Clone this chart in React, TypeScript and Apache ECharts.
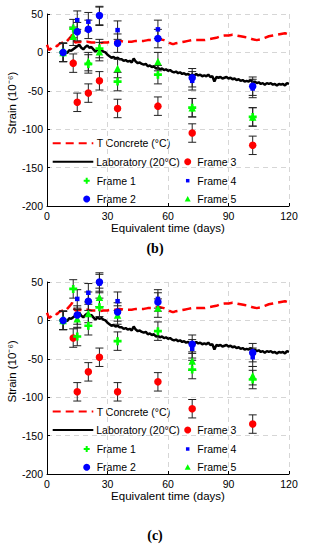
import React, { useEffect, useRef } from "react";
import * as echarts from "echarts";

type P = [number, number];

const xTicks = { min: 0, max: 120, interval: 30 };
const yTicks = { min: -200, max: 50, interval: 50 };
const ERR = 12;

const tConcrete: P[] = [
  [0, 10], [1, 3], [2, 5], [3, 8], [4, 9], [5, 8], [6, 11], [7, 12], [8, 13], [9, 12], [10, 15], [11, 18],
  [12, 21], [12.5, 23], [13, 17], [14, 13], [16, 14], [18, 13], [20, 14], [22, 13], [24, 13], [26, 12],
  [28, 13], [30, 13], [32, 14], [34, 14], [36, 15], [38, 14], [40, 14], [42, 14], [44, 15], [46, 15],
  [48, 15], [50, 16], [52, 16], [54, 17.5], [56, 17], [58, 16], [60, 14], [61, 12], [62, 11], [63, 11],
  [64, 12], [66, 13], [68, 14], [70, 15], [72, 16], [74, 16], [76, 16], [78, 16], [80, 17], [82, 18],
  [84, 19], [86, 21], [88, 22], [90, 22], [92, 23], [94, 22], [96, 21], [98, 20], [100, 19], [102, 17],
  [104, 16], [106, 17], [108, 19], [110, 21], [112, 22], [114, 23], [116, 24], [118, 25], [120, 23],
];

const laboratory: P[] = [
  [8, 0], [9, 1], [10, -1], [11, 3], [12, 2], [13, 4], [14, 6], [15, 8], [16, 10], [17, 6], [18, 4],
  [19, 7], [20, 9], [21, 6], [22, 7], [23, 4], [24, 1], [25, 4], [26, 2], [27, 3], [28, 1], [29, 0],
  [30, -3], [31, -5], [32, -7], [33, -6], [34, -8], [35, -7], [36, -9], [37, -9], [38, -11], [39, -10],
  [40, -12], [41, -11], [42, -13], [43, -8], [44, -12], [45, -14], [46, -13], [47, -15], [48, -16],
  [49, -15], [50, -18], [51, -17], [52, -19], [53, -18], [54, -21], [55, -20], [56, -22], [57, -21],
  [58, -23], [59, -22], [60, -24], [61, -23], [62, -25], [63, -26], [64, -25], [65, -27], [66, -26],
  [67, -28], [68, -27], [69, -29], [70, -28], [71, -30], [72, -29], [73, -30], [74, -28], [75, -30],
  [76, -29], [77, -31], [78, -30], [79, -31], [80, -29], [81, -32], [82, -31], [83, -38], [84, -32],
  [85, -33], [86, -32], [87, -34], [88, -33], [89, -32], [90, -34], [91, -33], [92, -35], [93, -34],
  [94, -36], [95, -35], [96, -37], [97, -36], [98, -38], [99, -37], [100, -38], [101, -36], [102, -39],
  [103, -38], [104, -40], [105, -39], [106, -41], [107, -40], [108, -42], [109, -40], [110, -41],
  [111, -40], [112, -42], [113, -41], [114, -43], [115, -41], [116, -42], [117, -41], [118, -43],
  [119, -40], [120, -41],
];

// Panel (b)
const frame1B: P[] = [[8, 0], [13, 31], [20.5, -15], [26, 5], [35, -38], [55, -29], [72, -72], [102, -84]];
const frame2B: P[] = [[8, 0], [15, 27], [20.5, 30], [26, 48], [35, 12], [55, 18], [72, -33], [102, -44]];
const frame3B: P[] = [[13, -14], [15, -65], [20.5, -53], [26, -37], [35, -73], [55, -70], [72, -105], [102, -121]];
const frame4B: P[] = [[8, 0], [15, 42], [20.5, 40], [26, 47], [35, 29], [55, 30], [72, -37], [102, -47]];
const frame5B: P[] = [[8, 0], [13, 21], [20.5, -12], [26, 1], [35, -21], [55, -12], [72, -72], [102, -84]];

// Panel (c)
const frame1C: P[] = [[8, 0], [13, 41], [15, -21], [20.5, -7], [26, 17], [35, -27], [55, -14], [72, -64], [102, -77]];
const frame2C: P[] = [[8, 0], [15, 7], [20.5, 25], [26, 50], [35, 11], [55, 24], [72, -31], [102, -42]];
const frame3C: P[] = [[13, -23], [15, -93], [20.5, -67], [26, -48], [35, -93], [55, -80], [72, -115], [102, -135]];
const frame4C: P[] = [[8, 0], [15, 28], [20.5, 36], [26, 48], [35, 25], [55, 28], [72, -37], [102, -48]];
const frame5C: P[] = [[8, 0], [15, 2], [20.5, 9], [26, 30], [35, 7], [55, 16], [72, -53], [102, -72]];

const F = "Liberation Sans, Arial, sans-serif";
const RED = "#ff0000";
const GREEN = "#00ff00";
const BLUE = "#0000ff";
const PLUS = "path://M2,0H4V2H6V4H4V6H2V4H0V2H2Z";

function axesFor(gi: number) {
  const x = {
    type: "value", gridIndex: gi, ...xTicks,
    axisLine: { show: true, onZero: false, lineStyle: { color: "#000", width: 1 } },
    axisTick: { show: true, inside: true, length: 3, lineStyle: { color: "#000" } },
    axisLabel: { color: "#000", fontSize: 10.5, fontFamily: F, margin: 4 },
    splitLine: { show: true, lineStyle: { color: "#d6d6d6", type: [5, 4], width: 1 } },
    name: "Equivalent time (days)", nameLocation: "middle", nameGap: 15,
    nameTextStyle: { color: "#000", fontSize: 11.5, fontFamily: F },
  };
  const y = {
    type: "value", gridIndex: gi, ...yTicks,
    axisLine: { show: true, onZero: false, lineStyle: { color: "#000", width: 1 } },
    axisTick: { show: true, inside: true, length: 3, lineStyle: { color: "#000" } },
    axisLabel: { color: "#000", fontSize: 10.5, fontFamily: F, margin: 4 },
    splitLine: { show: true, lineStyle: { color: "#d6d6d6", type: [5, 4], width: 1 } },
  };
  return { x, y };
}

function seriesFor(gi: number, frames: P[][]) {
  const base = { xAxisIndex: gi, yAxisIndex: gi };
  const all: number[][] = [];
  frames.forEach((f) => f.forEach(([x, y]) => all.push([x, y - ERR, y + ERR])));
  const styles = [
    { symbol: PLUS, symbolSize: 8, color: GREEN },
    { symbol: "circle", symbolSize: 7.5, color: BLUE },
    { symbol: "circle", symbolSize: 7.5, color: RED },
    { symbol: "rect", symbolSize: 4.5, color: BLUE },
    { symbol: "triangle", symbolSize: 7.5, color: GREEN },
  ];
  const order = [2, 4, 0, 1, 3];
  return [
    {
      ...base, type: "line", name: "T Concrete (°C)", data: tConcrete, showSymbol: false, z: 2,
      lineStyle: { color: RED, width: 2.5, type: [9, 5] },
    },
    {
      ...base, type: "line", name: "Laboratory (20°C)", data: laboratory, showSymbol: false, z: 2,
      lineStyle: { color: "#000", width: 2.5 },
    },
    {
      ...base, type: "custom", name: "err", data: all, z: 3, silent: true,
      encode: { x: 0, y: [1, 2] },
      renderItem: (_p: any, api: any) => {
        const x = api.value(0);
        const lo = api.coord([x, api.value(1)]);
        const hi = api.coord([x, api.value(2)]);
        const w = 4;
        const st = { stroke: "#222", lineWidth: 1 };
        return {
          type: "group",
          children: [
            { type: "line", shape: { x1: lo[0], y1: lo[1], x2: hi[0], y2: hi[1] }, style: st },
            { type: "line", shape: { x1: lo[0] - w, y1: lo[1], x2: lo[0] + w, y2: lo[1] }, style: st },
            { type: "line", shape: { x1: hi[0] - w, y1: hi[1], x2: hi[0] + w, y2: hi[1] }, style: st },
          ],
        };
      },
    },
    ...order.map((i) => ({
      ...base, type: "scatter", name: `Frame ${i + 1}`, data: frames[i], z: 4,
      symbol: styles[i].symbol, symbolSize: styles[i].symbolSize,
      itemStyle: { color: styles[i].color, opacity: 1 },
    })),
  ];
}

function legendGraphics(oy: number) {
  const ts = (text: string) => ({ text, fill: "#000", fontSize: 10.5, fontFamily: F, align: "left", verticalAlign: "middle" });
  const r1 = 143.3 + oy, r2 = 161.7 + oy, r3 = 180.7 + oy, r4 = 199 + oy;
  const c1 = 86.7, c2 = 187.7, t1 = 96.7, t2 = 197.3;
  return [
    { type: "line", shape: { x1: 52.7, y1: r1, x2: 93.3, y2: r1 }, style: { stroke: RED, lineWidth: 2, lineDash: [8, 5] } },
    { type: "text", x: t1, y: r1, style: ts("T Concrete (°C)") },
    { type: "line", shape: { x1: 52.7, y1: r2, x2: 93.3, y2: r2 }, style: { stroke: "#000", lineWidth: 2 } },
    { type: "text", x: t1 - 0.5, y: r2, style: ts("Laboratory (20°C)") },
    { type: "circle", shape: { cx: c2, cy: r2, r: 3.5 }, style: { fill: RED } },
    { type: "text", x: t2, y: r2, style: ts("Frame 3") },
    {
      type: "polygon",
      shape: { points: [[c1 - 1, r3 - 3], [c1 + 1, r3 - 3], [c1 + 1, r3 - 1], [c1 + 3, r3 - 1], [c1 + 3, r3 + 1], [c1 + 1, r3 + 1], [c1 + 1, r3 + 3], [c1 - 1, r3 + 3], [c1 - 1, r3 + 1], [c1 - 3, r3 + 1], [c1 - 3, r3 - 1], [c1 - 1, r3 - 1]] },
      style: { fill: GREEN },
    },
    { type: "text", x: t1, y: r3, style: ts("Frame 1") },
    { type: "rect", shape: { x: c2 - 1.75, y: r3 - 1.75, width: 3.5, height: 3.5 }, style: { fill: BLUE } },
    { type: "text", x: t2, y: r3, style: ts("Frame 4") },
    { type: "circle", shape: { cx: c1, cy: r4, r: 3.5 }, style: { fill: BLUE } },
    { type: "text", x: t1, y: r4, style: ts("Frame 2") },
    { type: "polygon", shape: { points: [[c2, r4 - 3], [c2 + 3, r4 + 2.5], [c2 - 3, r4 + 2.5]] }, style: { fill: GREEN } },
    { type: "text", x: t2, y: r4, style: ts("Frame 5") },
    {
      type: "text", x: 12, y: 103 + oy, rotation: Math.PI / 2,
      style: { text: "Strain (10⁻⁶)", fill: "#000", fontSize: 11.5, fontFamily: F, align: "center", verticalAlign: "middle" },
    },
  ];
}

export default function App() {
  const ref = useRef<HTMLDivElement>(null);
  useEffect(() => {
    document.body.style.margin = "0";
    const chart = echarts.init(ref.current!, null, { renderer: "svg" });
    const a0 = axesFor(0);
    const a1 = axesFor(1);
    const option: any = {
      animation: false,
      backgroundColor: "#fff",
      grid: [
        { left: 47, top: 14, width: 242, height: 192 },
        { left: 47, top: 282, width: 242, height: 192 },
      ],
      xAxis: [a0.x, a1.x],
      yAxis: [a0.y, a1.y],
      series: [
        ...seriesFor(0, [frame1B, frame2B, frame3B, frame4B, frame5B]),
        ...seriesFor(1, [frame1C, frame2C, frame3C, frame4C, frame5C]),
      ],
      graphic: [
        ...legendGraphics(0),
        ...legendGraphics(268.3),
        {
          type: "text", x: 155, y: 248,
          style: { text: "(b)", fill: "#000", fontSize: 14, fontWeight: "bold", fontFamily: "Liberation Serif, serif", align: "center", verticalAlign: "middle" },
        },
        {
          type: "text", x: 155, y: 535,
          style: { text: "(c)", fill: "#000", fontSize: 14, fontWeight: "bold", fontFamily: "Liberation Serif, serif", align: "center", verticalAlign: "middle" },
        },
      ],
    };
    chart.setOption(option);
    return () => chart.dispose();
  }, []);
  return <div ref={ref} style={{ width: 309, height: 550 }} />;
}
